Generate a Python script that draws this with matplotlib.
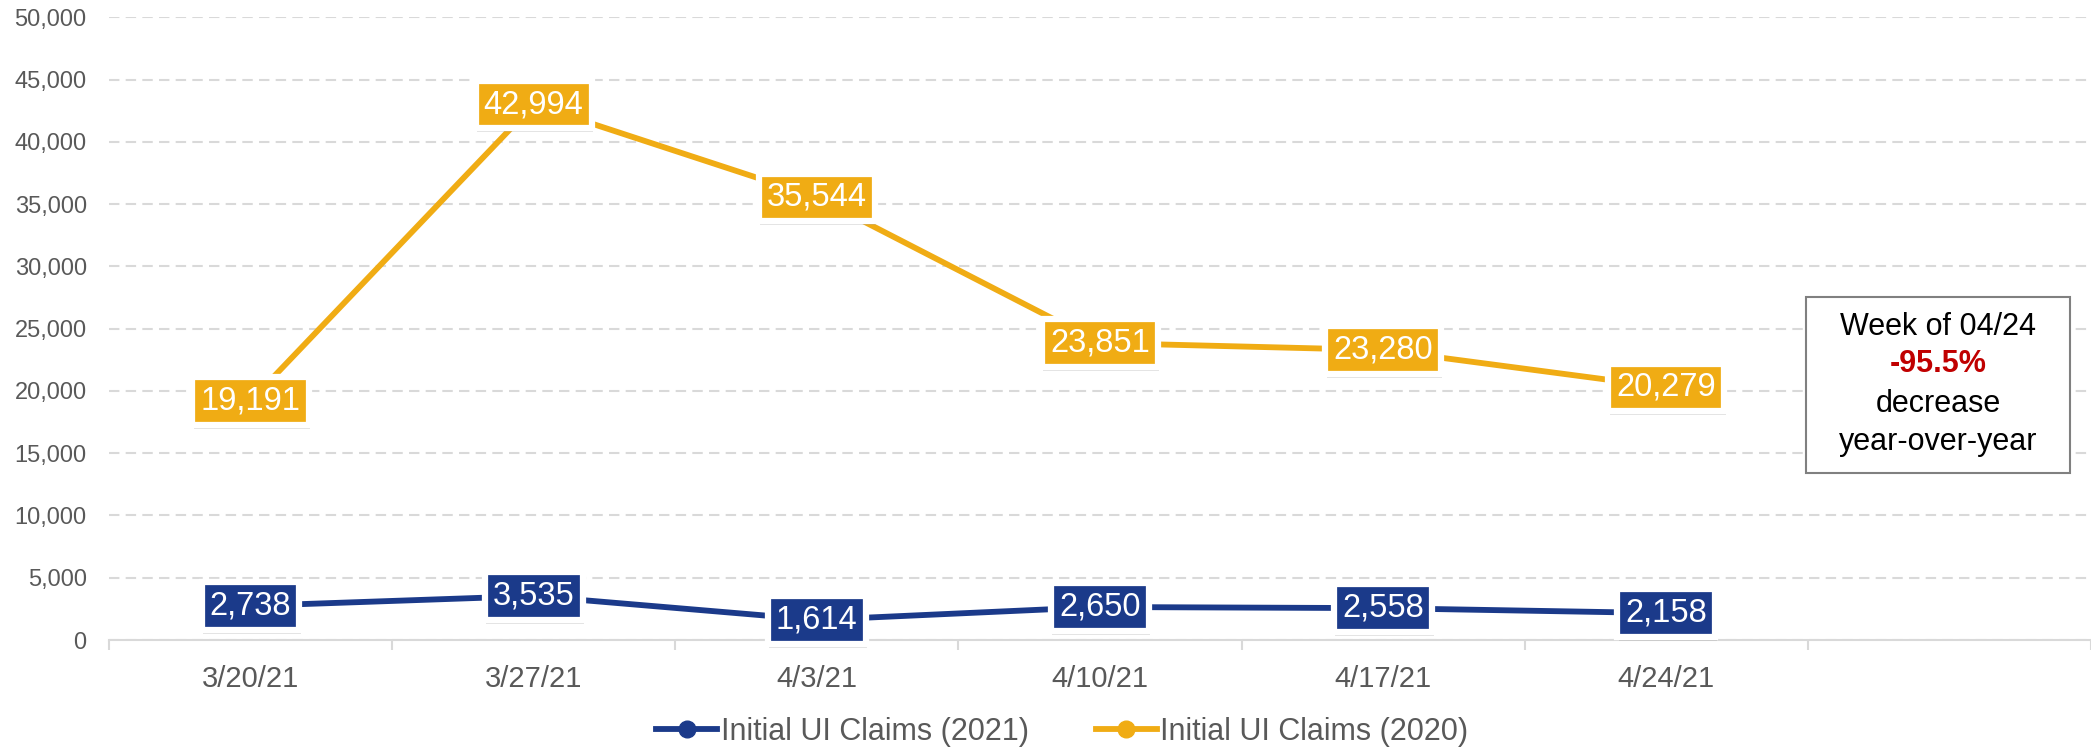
import matplotlib
matplotlib.use('Agg')
import matplotlib.pyplot as plt
import matplotlib.patheffects as pe
from matplotlib.patches import Rectangle
from matplotlib.ticker import FuncFormatter, FixedLocator

plt.rcParams['font.family'] = ['Liberation Sans', 'DejaVu Sans']

weeks = ['3/20/21', '3/27/21', '4/3/21', '4/10/21', '4/17/21', '4/24/21']
claims_2021 = [2738, 3535, 1614, 2650, 2558, 2158]
claims_2020 = [19191, 42994, 35544, 23851, 23280, 20279]

NAVY = '#1B3A8A'
GOLD = '#F0AC14'
GREY = '#595959'

fig = plt.figure(figsize=(20.91, 7.51), dpi=100)
ax = fig.add_axes([0.0521, 0.1478, 0.9479, 0.8292])

x = list(range(len(weeks)))
ax.plot(x, claims_2021, color=NAVY, lw=4.2, marker='o', ms=12, label='Initial UI Claims (2021)', zorder=3)
ax.plot(x, claims_2020, color=GOLD, lw=4.2, marker='o', ms=12, label='Initial UI Claims (2020)', zorder=3)


def add_label(xi, val, color):
    t = ax.text(xi, val, f'{val:,}', ha='center', va='center', color='white', fontsize=23.5, zorder=5,
                bbox=dict(boxstyle='square,pad=0.25', fc=color, ec='white', lw=4.5))
    t.get_bbox_patch().set_path_effects([pe.SimplePatchShadow(offset=(1, -3), shadow_rgbFace='#888888', alpha=0.25),
                                         pe.Normal()])


for xi, v in zip(x, claims_2021):
    add_label(xi, v, NAVY)
for xi, v in zip(x, claims_2020):
    add_label(xi, v, GOLD)

ax.set_xlim(-0.5, 6.5)
ax.set_ylim(0, 50000)
ax.set_yticks(range(0, 50001, 5000))
ax.yaxis.set_major_formatter(FuncFormatter(lambda v, p: f'{int(v):,}'))
ax.set_xticks(x)
ax.set_xticklabels(weeks)
ax.xaxis.set_minor_locator(FixedLocator([i + 0.5 for i in range(-1, 7)]))
ax.tick_params(axis='x', which='major', length=0, pad=18, labelsize=21, labelcolor=GREY)
ax.tick_params(axis='x', which='minor', length=7, color='#D9D9D9', width=1.5)
ax.tick_params(axis='y', length=0, pad=16, labelsize=17, labelcolor=GREY)

for s in ['top', 'right', 'left']:
    ax.spines[s].set_visible(False)
ax.spines['bottom'].set_color('#D9D9D9')
ax.spines['bottom'].set_linewidth(1.5)
ax.grid(axis='y', color='#D9D9D9', ls=(0, (5, 3)), lw=1.5)
ax.set_axisbelow(True)

fig.legend(loc='center', bbox_to_anchor=(0.508, 19 / 751), ncol=2, frameon=False, fontsize=22,
           labelcolor=GREY, handlelength=2.0, handletextpad=0.1, columnspacing=2.2)

# annotation box
bx0, by0, bw, bh = 1806 / 2091, 1 - 473 / 751, 264 / 2091, 176 / 751
fig.patches.append(Rectangle((bx0, by0), bw, bh, transform=fig.transFigure, fc='white',
                             ec='#808080', lw=1.5, zorder=10))
cx = bx0 + bw / 2
fig.text(cx, 1 - 327 / 751, 'Week of 04/24', ha='center', va='center', fontsize=22, color='black', zorder=11)
fig.text(cx, 1 - 364 / 751, '-95.5%', ha='center', va='center', fontsize=22, color='#C00000',
         fontweight='bold', zorder=11)
fig.text(cx, 1 - 404 / 751, 'decrease', ha='center', va='center', fontsize=22, color='black', zorder=11)
fig.text(cx, 1 - 442 / 751, 'year-over-year', ha='center', va='center', fontsize=22, color='black', zorder=11)

fig.savefig('out.png', dpi=100)
